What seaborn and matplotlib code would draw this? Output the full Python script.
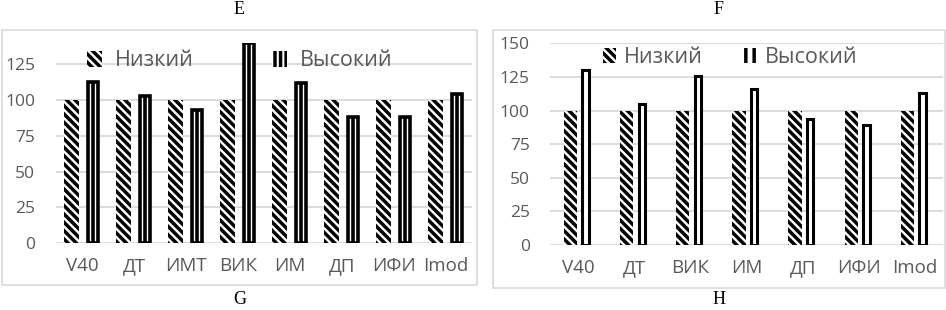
import matplotlib
matplotlib.use("Agg")
import matplotlib.pyplot as plt
import seaborn as sns
import pandas as pd
from matplotlib.patches import Patch, Rectangle

# ---------------- data ----------------
levels = ["Низкий", "Высокий"]

cats_g = ["V40", "ДТ", "ИМТ", "ВИК", "ИМ", "ДП", "ИФИ", "Imod"]
low_g = [100, 100, 100, 100, 100, 100, 100, 100]
high_g = [113, 103, 93, 140, 112, 88, 88, 104]
yticks_g = [0, 25, 50, 75, 100, 125]

cats_h = ["V40", "ДТ", "ВИК", "ИМ", "ДП", "ИФИ", "Imod"]
low_h = [100, 100, 100, 100, 100, 100, 100]
high_h = [130, 105, 126, 116, 94, 89, 113]
yticks_h = [0, 25, 50, 75, 100, 125, 150]

top_titles = ["E", "F"]
bottom_titles = ["G", "H"]

# ---------------- style ----------------
sns.set_theme(style="white")
plt.rcParams["font.family"] = ["Open Sans", "DejaVu Sans"]
plt.rcParams["hatch.linewidth"] = 2.5

W, H = 946, 310
fig = plt.figure(figsize=(W / 100, H / 100), dpi=100)


def px_axes(x0, y_top, x1, y_bot):
    return fig.add_axes([x0 / W, 1 - y_bot / H, (x1 - x0) / W, (y_bot - y_top) / H])


def make_df(cats, low, high):
    return pd.DataFrame({
        "cat": cats + cats,
        "val": low + high,
        "level": [levels[0]] * len(cats) + [levels[1]] * len(cats),
    })


gray_txt = "#595959"
grid_c = "#D9D9D9"
diag = "\\" * 4

panels = [
    dict(cats=cats_g, low=low_g, high=high_g, yticks=yticks_g, ylim=140,
         box=(56, 43, 472, 243), frame=(2, 30, 477, 285),
         width=0.84, gap=0.32, shrink=0.64, edge_lw=2.6,
         ypad=15, leg=(0.442, 0.91), colsp=3.6, htp=0.6, hh="|" * 3, hl=0.72),
    dict(cats=cats_h, low=low_h, high=high_h, yticks=yticks_h, ylim=150,
         box=(550, 43.3, 943, 245), frame=(493, 30, 945, 288),
         width=0.54, gap=0.13, shrink=0.48, edge_lw=2.2,
         ypad=14.5, leg=(0.458, 0.93), colsp=1.85, htp=0.4, hh="|" * 2, hl=0.6),
]

for i, p in enumerate(panels):
    ax = px_axes(*p["box"])
    df = make_df(p["cats"], p["low"], p["high"])
    sns.barplot(data=df, x="cat", y="val", hue="level", hue_order=levels,
                palette=["white", "white"], width=p["width"], gap=p["gap"],
                legend=False, ax=ax, saturation=1)

    low_bars, high_bars = ax.containers[0], ax.containers[1]
    for b in low_bars:
        b.set_facecolor("white")
        b.set_edgecolor("black")
        b.set_linewidth(0)
        b.set_hatch(diag)
    for b in high_bars:
        w = b.get_width()
        cx = b.get_x() + w / 2
        nw = w * p["shrink"]
        b.set_x(cx - nw / 2)
        b.set_width(nw)
        b.set_facecolor("white")
        b.set_edgecolor("black")
        b.set_linewidth(p["edge_lw"])
        b.set_joinstyle("miter")
        if i == 0:
            ax.vlines(cx, 0, b.get_height(), color="black", lw=p["edge_lw"], zorder=3)

    ax.set_ylim(0, p["ylim"])
    ax.set_xlim(-0.5, len(p["cats"]) - 0.5)
    ax.set_yticks(p["yticks"])
    ax.yaxis.grid(True, color=grid_c, lw=1.3)
    ax.xaxis.grid(False)
    ax.set_axisbelow(True)
    for s in ax.spines.values():
        s.set_visible(False)
    ax.set_xlabel("")
    ax.set_ylabel("")
    ax.tick_params(axis="y", length=0, pad=p["ypad"], labelsize=12.5, labelcolor=gray_txt)
    ax.tick_params(axis="x", length=0, pad=10, labelsize=13.5, labelcolor=gray_txt)

    handles = [
        Patch(facecolor="white", edgecolor="black", lw=0, hatch=diag),
        Patch(facecolor="white", edgecolor="black", lw=0, hatch=p["hh"]),
    ]
    ax.legend(handles=handles, labels=levels, ncol=2, loc="center",
              bbox_to_anchor=p["leg"], frameon=False, fontsize=15.5,
              labelcolor=gray_txt, handlelength=p["hl"], handleheight=0.75,
              handletextpad=p["htp"], columnspacing=p["colsp"], borderpad=0)

    fx0, fy0, fx1, fy1 = p["frame"]
    fig.add_artist(Rectangle((fx0 / W, 1 - fy1 / H), (fx1 - fx0) / W, (fy1 - fy0) / H,
                             transform=fig.transFigure, fill=False,
                             edgecolor=grid_c, lw=1.2))
    cxf = (fx0 + fx1) / 2 / W
    fig.text(cxf, 1 - 10 / H, top_titles[i], ha="center", va="center",
             fontsize=13, family="Liberation Serif", color="black")
    fig.text(cxf, 1 - 300 / H, bottom_titles[i], ha="center", va="center",
             fontsize=13, family="Liberation Serif", color="black")

fig.savefig("out.png", dpi=100)
